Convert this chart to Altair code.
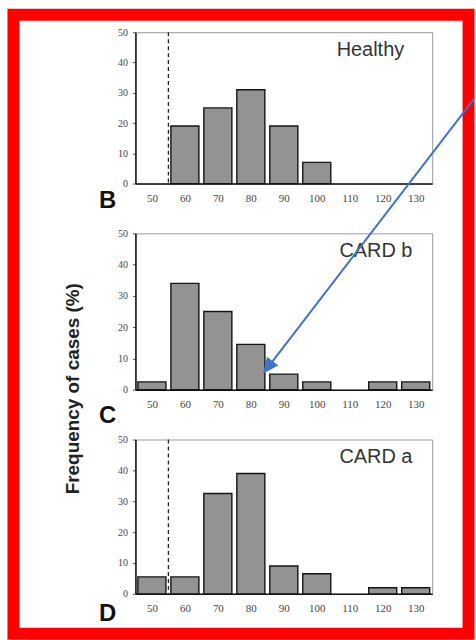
import altair as alt
import pandas as pd

bins = [50, 60, 70, 80, 90, 100, 110, 120, 130]
healthy = [0, 19, 25, 31, 19, 7, 0, 0, 0]
card_b = [2.5, 34, 25, 14.5, 5, 2.5, 0, 2.5, 2.5]
card_a = [5.5, 5.5, 32.5, 39, 9, 6.5, 0, 2, 2]
y_ticks = [0, 10, 20, 30, 40, 50]

W = 298
one = alt.Data(values=[{"k": 1}])

xscale = alt.Scale(domain=[45, 135], nice=False, zero=False)
yscale = alt.Scale(domain=[0, 50], nice=False)

xaxis = alt.Axis(values=bins, format="d", title=None, ticks=False, labelPadding=9,
                 labelFontSize=11, labelOverlap=False, labelFlush=False, labelAngle=0)
yaxis = alt.Axis(values=y_ticks, format="d", title=None, tickSize=3, labelPadding=5,
                 labelFontSize=10, labelOverlap=False, labelFlush=False)


def panel(vals, name, letter, height, letter_dy, dashed, pre, extras):
    df = pd.DataFrame({"bin": bins, "pct": vals})
    bars = (
        alt.Chart(df)
        .transform_filter("datum.pct > 0")
        .transform_calculate(x0="datum.bin - 4.25", x1="datum.bin + 4.25")
        .mark_bar(fill="#939393", stroke="#151515", strokeWidth=1.4)
        .encode(
            x=alt.X("x0:Q", scale=xscale, axis=xaxis),
            x2="x1:Q",
            y=alt.Y("pct:Q", scale=yscale, axis=yaxis),
            y2=alt.datum(0),
        )
    )
    layers = list(pre) + [bars]
    if dashed:
        layers.append(
            alt.Chart(one).mark_rule(strokeDash=[4, 3], color="#222", strokeWidth=1.3)
            .encode(x=alt.datum(55, axis=xaxis), y=alt.value(0), y2=alt.value(height))
        )
    layers.append(
        alt.Chart(one).mark_text(align="right", baseline="middle", fontSize=20,
                                 font="Liberation Sans", color="#333")
        .encode(x=alt.datum(129 if name != "Healthy" else 126.5, axis=xaxis),
                y=alt.datum(44.2, axis=yaxis),
                text=alt.value(name))
    )
    layers.append(
        alt.Chart(one).mark_text(align="center", baseline="alphabetic", fontSize=24,
                                 font="Liberation Sans", fontWeight="bold", color="#111")
        .encode(x=alt.value(-28), y=alt.value(height + letter_dy), text=alt.value(letter))
    )
    layers.extend(extras)
    return alt.layer(*layers).properties(width=W, height=height)


bounds_box = (
    alt.Chart(one).mark_rect(fill="white", fillOpacity=0)
    .encode(x=alt.value(-135), x2=alt.value(341), y=alt.value(-30), y2=alt.value(609))
)

frame = (
    alt.Chart(one).mark_rect(fill=None, stroke="#ff0000", strokeWidth=12)
    .encode(x=alt.value(-122.5), x2=alt.value(334.5), y=alt.value(-17.5), y2=alt.value(604))
)

ytitle = (
    alt.Chart(one).mark_text(angle=270, align="center", baseline="middle", fontSize=19,
                             font="Liberation Sans", fontWeight="bold", color="#222")
    .encode(x=alt.value(-63), y=alt.value(156), text=alt.value("Frequency of cases (%)"))
)

arrow_line = (
    alt.Chart(one).mark_rule(color="#4472C4", strokeWidth=2)
    .encode(x=alt.value(340), y=alt.value(-135), x2=alt.value(135), y2=alt.value(132))
)
arrow_head = (
    alt.Chart(one).mark_point(shape="M0,0 L0.45,1 L-0.45,1 Z", filled=True, color="#4472C4",
                              opacity=1, size=1024, angle=217.7)
    .encode(x=alt.value(128), y=alt.value(141))
)

pB = panel(healthy, "Healthy", "B", 152, 25, True, [bounds_box], [frame])
pC = panel(card_b, "CARD b", "C", 157, 33, False, [], [ytitle, arrow_line, arrow_head])
pD = panel(card_a, "CARD a", "D", 155, 27, True, [], [])

chart = (
    alt.vconcat(pB, pC, pD, spacing=50, bounds="flush")
    .properties(padding=0, background="white")
    .configure_view(stroke="#9a9a9a", strokeWidth=1)
    .configure_axis(labelOverlap=False, labelFont="Liberation Serif", labelColor="#444",
                    domainColor="#111", domainWidth=1.5, grid=False, tickColor="#555")
)

chart.save("out.html", embed_options={"renderer": "svg", "actions": False})
